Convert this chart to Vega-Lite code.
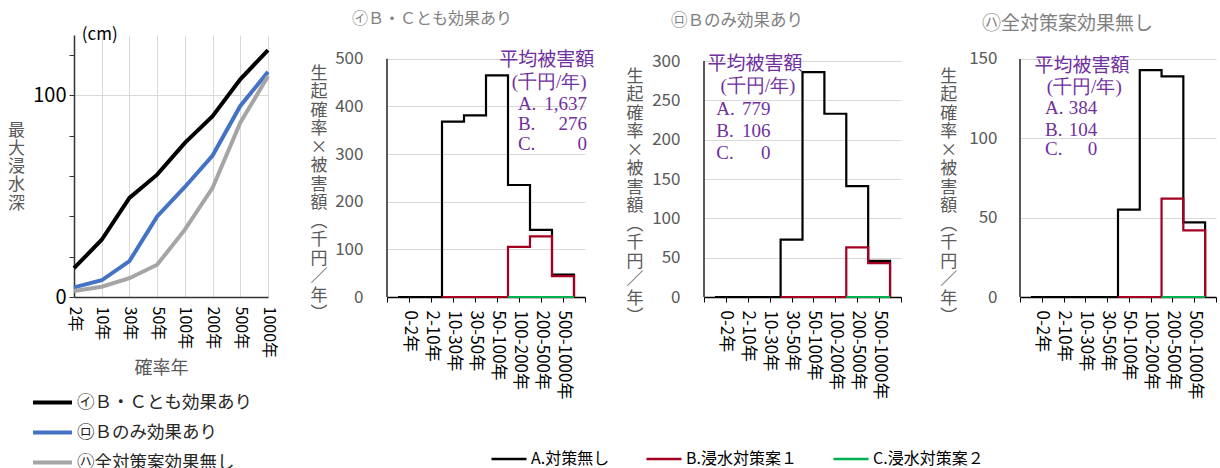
{
  "$schema": "https://vega.github.io/schema/vega-lite/v6.json",
  "background": "white",
  "padding": {"left": 7, "top": 10, "right": 0, "bottom": 0},
  "spacing": 119,
  "bounds": "flush",
  "resolve": {"scale": {"color": "independent", "x": "independent", "y": "independent"}, "legend": {"color": "independent"}},
  "config": {
    "font": "Noto Sans CJK JP",
    "view": {"stroke": null},
    "axis": {"titleFontWeight": "normal", "labelOverlap": false, "labelFlush": false},
    "title": {"fontWeight": "normal"}
  },
  "datasets": {
    "depth": [
      {"scen": "㋑Ｂ・Ｃとも効果あり", "period": "2年", "depth": 14.3},
      {"scen": "㋑Ｂ・Ｃとも効果あり", "period": "10年", "depth": 28.4},
      {"scen": "㋑Ｂ・Ｃとも効果あり", "period": "30年", "depth": 49.2},
      {"scen": "㋑Ｂ・Ｃとも効果あり", "period": "50年", "depth": 60.7},
      {"scen": "㋑Ｂ・Ｃとも効果あり", "period": "100年", "depth": 76.5},
      {"scen": "㋑Ｂ・Ｃとも効果あり", "period": "200年", "depth": 89.7},
      {"scen": "㋑Ｂ・Ｃとも効果あり", "period": "500年", "depth": 108},
      {"scen": "㋑Ｂ・Ｃとも効果あり", "period": "1000年", "depth": 122.5},
      {"scen": "㋺Ｂのみ効果あり", "period": "2年", "depth": 4.8},
      {"scen": "㋺Ｂのみ効果あり", "period": "10年", "depth": 8.3},
      {"scen": "㋺Ｂのみ効果あり", "period": "30年", "depth": 17.8},
      {"scen": "㋺Ｂのみ効果あり", "period": "50年", "depth": 40},
      {"scen": "㋺Ｂのみ効果あり", "period": "100年", "depth": 54.6},
      {"scen": "㋺Ｂのみ効果あり", "period": "200年", "depth": 70.2},
      {"scen": "㋺Ｂのみ効果あり", "period": "500年", "depth": 94.8},
      {"scen": "㋺Ｂのみ効果あり", "period": "1000年", "depth": 111.7},
      {"scen": "㋩全対策案効果無し", "period": "2年", "depth": 3},
      {"scen": "㋩全対策案効果無し", "period": "10年", "depth": 5.1},
      {"scen": "㋩全対策案効果無し", "period": "30年", "depth": 9.3},
      {"scen": "㋩全対策案効果無し", "period": "50年", "depth": 16},
      {"scen": "㋩全対策案効果無し", "period": "100年", "depth": 33.4},
      {"scen": "㋩全対策案効果無し", "period": "200年", "depth": 54.2},
      {"scen": "㋩全対策案効果無し", "period": "500年", "depth": 86.5},
      {"scen": "㋩全対策案効果無し", "period": "1000年", "depth": 109.5}
    ],
    "damage": [
      {"scen": "イ", "bin": "0-2年", "start": 0.5, "series": "A.対策無し", "value": 0},
      {"scen": "イ", "bin": "2-10年", "start": 1.5, "series": "A.対策無し", "value": 0},
      {"scen": "イ", "bin": "10-30年", "start": 2.5, "series": "A.対策無し", "value": 368},
      {"scen": "イ", "bin": "30-50年", "start": 3.5, "series": "A.対策無し", "value": 381},
      {"scen": "イ", "bin": "50-100年", "start": 4.5, "series": "A.対策無し", "value": 465},
      {"scen": "イ", "bin": "100-200年", "start": 5.5, "series": "A.対策無し", "value": 235},
      {"scen": "イ", "bin": "200-500年", "start": 6.5, "series": "A.対策無し", "value": 141},
      {"scen": "イ", "bin": "500-1000年", "start": 7.5, "series": "A.対策無し", "value": 47},
      {"scen": "イ", "bin": "end", "start": 8.5, "series": "A.対策無し", "value": 0},
      {"scen": "イ", "bin": "10-30年", "start": 2.5, "series": "B.浸水対策案１", "value": 0},
      {"scen": "イ", "bin": "30-50年", "start": 3.5, "series": "B.浸水対策案１", "value": 0},
      {"scen": "イ", "bin": "50-100年", "start": 4.5, "series": "B.浸水対策案１", "value": 0},
      {"scen": "イ", "bin": "100-200年", "start": 5.5, "series": "B.浸水対策案１", "value": 105},
      {"scen": "イ", "bin": "200-500年", "start": 6.5, "series": "B.浸水対策案１", "value": 127},
      {"scen": "イ", "bin": "500-1000年", "start": 7.5, "series": "B.浸水対策案１", "value": 44},
      {"scen": "イ", "bin": "end", "start": 8.5, "series": "B.浸水対策案１", "value": 0},
      {"scen": "イ", "bin": "100-200年", "start": 5.5, "series": "C.浸水対策案２", "value": 0},
      {"scen": "イ", "bin": "200-500年", "start": 6.5, "series": "C.浸水対策案２", "value": 0},
      {"scen": "イ", "bin": "500-1000年", "start": 7.5, "series": "C.浸水対策案２", "value": 0},
      {"scen": "イ", "bin": "end", "start": 8.5, "series": "C.浸水対策案２", "value": 0},
      {"scen": "ロ", "bin": "0-2年", "start": 0.5, "series": "A.対策無し", "value": 0},
      {"scen": "ロ", "bin": "2-10年", "start": 1.5, "series": "A.対策無し", "value": 0},
      {"scen": "ロ", "bin": "10-30年", "start": 2.5, "series": "A.対策無し", "value": 0},
      {"scen": "ロ", "bin": "30-50年", "start": 3.5, "series": "A.対策無し", "value": 73},
      {"scen": "ロ", "bin": "50-100年", "start": 4.5, "series": "A.対策無し", "value": 286},
      {"scen": "ロ", "bin": "100-200年", "start": 5.5, "series": "A.対策無し", "value": 233},
      {"scen": "ロ", "bin": "200-500年", "start": 6.5, "series": "A.対策無し", "value": 141},
      {"scen": "ロ", "bin": "500-1000年", "start": 7.5, "series": "A.対策無し", "value": 46},
      {"scen": "ロ", "bin": "end", "start": 8.5, "series": "A.対策無し", "value": 0},
      {"scen": "ロ", "bin": "30-50年", "start": 3.5, "series": "B.浸水対策案１", "value": 0},
      {"scen": "ロ", "bin": "50-100年", "start": 4.5, "series": "B.浸水対策案１", "value": 0},
      {"scen": "ロ", "bin": "100-200年", "start": 5.5, "series": "B.浸水対策案１", "value": 0},
      {"scen": "ロ", "bin": "200-500年", "start": 6.5, "series": "B.浸水対策案１", "value": 63},
      {"scen": "ロ", "bin": "500-1000年", "start": 7.5, "series": "B.浸水対策案１", "value": 43},
      {"scen": "ロ", "bin": "end", "start": 8.5, "series": "B.浸水対策案１", "value": 0},
      {"scen": "ロ", "bin": "200-500年", "start": 6.5, "series": "C.浸水対策案２", "value": 0},
      {"scen": "ロ", "bin": "500-1000年", "start": 7.5, "series": "C.浸水対策案２", "value": 0},
      {"scen": "ロ", "bin": "end", "start": 8.5, "series": "C.浸水対策案２", "value": 0},
      {"scen": "ハ", "bin": "0-2年", "start": 0.5, "series": "A.対策無し", "value": 0},
      {"scen": "ハ", "bin": "2-10年", "start": 1.5, "series": "A.対策無し", "value": 0},
      {"scen": "ハ", "bin": "10-30年", "start": 2.5, "series": "A.対策無し", "value": 0},
      {"scen": "ハ", "bin": "30-50年", "start": 3.5, "series": "A.対策無し", "value": 0},
      {"scen": "ハ", "bin": "50-100年", "start": 4.5, "series": "A.対策無し", "value": 55},
      {"scen": "ハ", "bin": "100-200年", "start": 5.5, "series": "A.対策無し", "value": 143},
      {"scen": "ハ", "bin": "200-500年", "start": 6.5, "series": "A.対策無し", "value": 139},
      {"scen": "ハ", "bin": "500-1000年", "start": 7.5, "series": "A.対策無し", "value": 47},
      {"scen": "ハ", "bin": "end", "start": 8.5, "series": "A.対策無し", "value": 0},
      {"scen": "ハ", "bin": "50-100年", "start": 4.5, "series": "B.浸水対策案１", "value": 0},
      {"scen": "ハ", "bin": "100-200年", "start": 5.5, "series": "B.浸水対策案１", "value": 0},
      {"scen": "ハ", "bin": "200-500年", "start": 6.5, "series": "B.浸水対策案１", "value": 62},
      {"scen": "ハ", "bin": "500-1000年", "start": 7.5, "series": "B.浸水対策案１", "value": 42},
      {"scen": "ハ", "bin": "end", "start": 8.5, "series": "B.浸水対策案１", "value": 0},
      {"scen": "ハ", "bin": "200-500年", "start": 6.5, "series": "C.浸水対策案２", "value": 0},
      {"scen": "ハ", "bin": "500-1000年", "start": 7.5, "series": "C.浸水対策案２", "value": 0},
      {"scen": "ハ", "bin": "end", "start": 8.5, "series": "C.浸水対策案２", "value": 0}
    ],
    "avg": [
      {"scen": "イ", "item": "A.", "avg": 1637},
      {"scen": "イ", "item": "B.", "avg": 276},
      {"scen": "イ", "item": "C.", "avg": 0},
      {"scen": "ロ", "item": "A.", "avg": 779},
      {"scen": "ロ", "item": "B.", "avg": 106},
      {"scen": "ロ", "item": "C.", "avg": 0},
      {"scen": "ハ", "item": "A.", "avg": 384},
      {"scen": "ハ", "item": "B.", "avg": 104},
      {"scen": "ハ", "item": "C.", "avg": 0}
    ]
  },
  "hconcat": [
    {
      "width": 194,
      "height": 262,
      "layer": [
        {
          "data": {"name": "depth"},
          "mark": {"type": "line", "strokeWidth": 4},
          "encoding": {
            "x": {
              "field": "period", "type": "ordinal",
              "scale": {"type": "point", "padding": 0, "domain": ["2年", "10年", "30年", "50年", "100年", "200年", "500年", "1000年"]},
              "axis": {
                "title": "確率年", "titleFontSize": 18, "titleColor": "#595959", "titleX": 87, "titleY": 71, "titleAlign": "center", "titleBaseline": "middle",
                "labelAngle": 90, "labelFontSize": 16, "labelColor": "#000000", "labelPadding": 9,
                "ticks": false, "domainColor": "#333333", "domainWidth": 1.5,
                "grid": true, "gridColor": "#d9d9d9", "gridWidth": 1
              }
            },
            "y": {
              "field": "depth", "type": "quantitative",
              "scale": {"domain": [0, 130], "nice": false},
              "axis": {
                "values": [0, 10, 20, 30, 40, 50, 60, 70, 80, 90, 100, 110, 120, 130],
                "labelExpr": "datum.value % 50 == 0 ? datum.label : ''",
                "labelOverlap": false, "labelFontSize": 20, "labelColor": "#000000", "labelPadding": 3,
                "tickSize": 5, "tickColor": "#333333", "tickWidth": 1,
                "domainColor": "#333333", "domainWidth": 1.5,
                "grid": true, "gridColor": "#d9d9d9",
                "gridOpacity": {"condition": {"test": "datum.value % 50 == 0", "value": 1}, "value": 0},
                "title": ["最", "大", "浸", "水", "深"], "titleAngle": 0, "titleX": -58, "titleY": 87,
                "titleAlign": "center", "titleBaseline": "top", "titleLineHeight": 18.3, "titleFontSize": 17, "titleColor": "#595959"
              }
            },
            "color": {
              "field": "scen", "type": "nominal",
              "scale": {"domain": ["㋑Ｂ・Ｃとも効果あり", "㋺Ｂのみ効果あり", "㋩全対策案効果無し"], "range": ["#000000", "#4472C4", "#A5A5A5"]},
              "legend": {
                "orient": "none", "legendX": -43, "legendY": 346, "direction": "vertical", "title": null,
                "symbolType": "stroke", "symbolSize": 1521, "symbolStrokeWidth": 4,
                "labelFontSize": 17.5, "labelColor": "#262626", "labelOffset": 3, "rowPadding": 0, "labelLimit": 400
              }
            }
          }
        },
        {
          "data": {"name": "depth"},
          "transform": [{"filter": "datum.period == '2年' && datum.depth > 14"}],
          "mark": {"type": "text", "align": "center", "baseline": "middle", "fontSize": 17, "dx": -2},
          "encoding": {"x": {"datum": "10年"}, "y": {"datum": 130}, "text": {"value": "(cm)"}, "color": {"value": "#000000"}}
        }
      ]
    },
    {
      "width": 198,
      "height": 262,
      "title": {"text": "㋑Ｂ・Ｃとも効果あり", "anchor": "start", "frame": "group", "dx": -35, "offset": 0.3, "baseline": "middle", "fontSize": 16, "color": "#808080"},
      "resolve": {"scale": {"x": "independent", "y": "independent"}, "axis": {"x": "independent", "y": "independent"}},
      "layer": [
        {
          "data": {"name": "damage"},
          "transform": [{"filter": "datum.scen == 'イ'"}],
          "mark": {"type": "line", "interpolate": "step-after", "strokeWidth": 2.2},
          "encoding": {
            "x": {
              "field": "start", "type": "quantitative",
              "scale": {"domain": [0, 9], "nice": false, "zero": false},
              "axis": {
                "values": [0, 1, 2, 3, 4, 5, 6, 7, 8, 9],
                "labelExpr": "['','0-2年','2-10年','10-30年','30-50年','50-100年','100-200年','200-500年','500-1000年',''][datum.value]",
                "labelAngle": 90, "labelFontSize": 17, "labelColor": "#000000", "labelPadding": 8, "labelFlush": false, "labelOverlap": false,
                "tickSize": 5, "tickColor": "#000000", "tickWidth": 1, "domainColor": "#000000", "domainWidth": 1.5,
                "grid": false, "title": null
              }
            },
            "y": {
              "field": "value", "type": "quantitative",
              "scale": {"domain": [0, 549.7], "nice": false},
              "axis": {
                "values": [0, 100, 200, 300, 400, 500],
                "domain": false, "ticks": false, "grid": true, "gridColor": "#d9d9d9",
                "labelFontSize": 17, "labelColor": "#595959", "labelPadding": 24,
                "title": ["生", "起", "確", "率", "×", "被", "害", "額", "︵", "千", "円", "／", "年", "︶"],
                "titleAngle": 0, "titleX": -68.4, "titleY": 30, "titleAlign": "center", "titleBaseline": "top",
                "titleLineHeight": 18.5, "titleFontSize": 17, "titleColor": "#595959"
              }
            },
            "color": {
              "field": "series", "type": "nominal",
              "scale": {"domain": ["A.対策無し", "B.浸水対策案１", "C.浸水対策案２"], "range": ["#000000", "#A50021", "#00B050"]},
              "legend": {
                "orient": "none", "legendX": 103, "legendY": 405, "direction": "horizontal", "columns": 3, "title": null,
                "symbolType": "stroke", "symbolSize": 1225, "symbolStrokeWidth": 2.5,
                "labelFontSize": 16, "labelColor": "#000000", "labelOffset": 3, "columnPadding": 31, "labelLimit": 300
              }
            }
          }
        },
        {
          "data": {"name": "avg"},
          "transform": [{"filter": "datum.scen == 'イ'"}],
          "layer": [
            {
              "transform": [{"filter": "datum.item == 'A.'"}],
              "mark": {"type": "rule", "strokeWidth": 1.5, "color": "#222222"},
              "encoding": {
                "x": {"datum": 0, "type": "quantitative", "scale": {"domain": [0, 9], "nice": false, "zero": false}, "axis": null},
                "y": {"datum": 0, "type": "quantitative", "scale": {"domain": [0, 549.7], "nice": false}, "axis": null},
                "y2": {"datum": 500}
              }
            },
            {
              "transform": [{"filter": "datum.item == 'A.'"}],
              "mark": {"type": "text", "align": "center", "baseline": "middle", "fontSize": 19, "color": "#7030A0"},
              "encoding": {
                "x": {"datum": 7.26, "type": "quantitative", "scale": {"domain": [0, 9], "nice": false, "zero": false}, "axis": null},
                "y": {"datum": 496.5, "type": "quantitative", "scale": {"domain": [0, 549.7], "nice": false}, "axis": null},
                "text": {"value": "平均被害額"}
              }
            },
            {
              "transform": [{"filter": "datum.item == 'A.'"}],
              "mark": {"type": "text", "align": "center", "baseline": "middle", "fontSize": 19, "font": "Liberation Serif", "color": "#7030A0"},
              "encoding": {
                "x": {"datum": 7.37, "type": "quantitative", "scale": {"domain": [0, 9], "nice": false, "zero": false}, "axis": null},
                "y": {"datum": 451, "type": "quantitative", "scale": {"domain": [0, 549.7], "nice": false}, "axis": null},
                "text": {"value": "(千円/年)"}
              }
            },
            {
              "transform": [{"filter": "datum.item == 'A.'"}],
              "mark": {"type": "text", "align": "left", "baseline": "middle", "fontSize": 19, "font": "Liberation Serif", "color": "#7030A0"},
              "encoding": {
                "x": {"datum": 5.95, "type": "quantitative", "scale": {"domain": [0, 9], "nice": false, "zero": false}, "axis": null},
                "y": {"datum": 405.7, "type": "quantitative", "scale": {"domain": [0, 549.7], "nice": false}, "axis": null},
                "text": {"field": "item", "type": "nominal"}
              }
            },
            {
              "transform": [{"filter": "datum.item == 'B.'"}],
              "mark": {"type": "text", "align": "left", "baseline": "middle", "fontSize": 19, "font": "Liberation Serif", "color": "#7030A0"},
              "encoding": {
                "x": {"datum": 5.95, "type": "quantitative", "scale": {"domain": [0, 9], "nice": false, "zero": false}, "axis": null},
                "y": {"datum": 362.3, "type": "quantitative", "scale": {"domain": [0, 549.7], "nice": false}, "axis": null},
                "text": {"field": "item", "type": "nominal"}
              }
            },
            {
              "transform": [{"filter": "datum.item == 'C.'"}],
              "mark": {"type": "text", "align": "left", "baseline": "middle", "fontSize": 19, "font": "Liberation Serif", "color": "#7030A0"},
              "encoding": {
                "x": {"datum": 5.95, "type": "quantitative", "scale": {"domain": [0, 9], "nice": false, "zero": false}, "axis": null},
                "y": {"datum": 320.3, "type": "quantitative", "scale": {"domain": [0, 549.7], "nice": false}, "axis": null},
                "text": {"field": "item", "type": "nominal"}
              }
            },
            {
              "transform": [{"filter": "datum.item == 'A.'"}],
              "mark": {"type": "text", "align": "right", "baseline": "middle", "fontSize": 19, "font": "Liberation Serif", "color": "#7030A0"},
              "encoding": {
                "x": {"datum": 9.09, "type": "quantitative", "scale": {"domain": [0, 9], "nice": false, "zero": false}, "axis": null},
                "y": {"datum": 405.7, "type": "quantitative", "scale": {"domain": [0, 549.7], "nice": false}, "axis": null},
                "text": {"field": "avg", "type": "quantitative", "format": ","}
              }
            },
            {
              "transform": [{"filter": "datum.item == 'B.'"}],
              "mark": {"type": "text", "align": "right", "baseline": "middle", "fontSize": 19, "font": "Liberation Serif", "color": "#7030A0"},
              "encoding": {
                "x": {"datum": 9.09, "type": "quantitative", "scale": {"domain": [0, 9], "nice": false, "zero": false}, "axis": null},
                "y": {"datum": 362.3, "type": "quantitative", "scale": {"domain": [0, 549.7], "nice": false}, "axis": null},
                "text": {"field": "avg", "type": "quantitative", "format": ","}
              }
            },
            {
              "transform": [{"filter": "datum.item == 'C.'"}],
              "mark": {"type": "text", "align": "right", "baseline": "middle", "fontSize": 19, "font": "Liberation Serif", "color": "#7030A0"},
              "encoding": {
                "x": {"datum": 9.09, "type": "quantitative", "scale": {"domain": [0, 9], "nice": false, "zero": false}, "axis": null},
                "y": {"datum": 320.3, "type": "quantitative", "scale": {"domain": [0, 549.7], "nice": false}, "axis": null},
                "text": {"field": "avg", "type": "quantitative", "format": ","}
              }
            }
          ]
        }
      ]
    },
    {
      "width": 197,
      "height": 262,
      "title": {"text": "㋺Ｂのみ効果あり", "anchor": "start", "frame": "group", "dx": -33, "offset": -2.3, "baseline": "middle", "fontSize": 16.5, "color": "#808080"},
      "resolve": {"scale": {"x": "independent", "y": "independent"}, "axis": {"x": "independent", "y": "independent"}},
      "layer": [
        {
          "data": {"name": "damage"},
          "transform": [{"filter": "datum.scen == 'ロ'"}],
          "mark": {"type": "line", "interpolate": "step-after", "strokeWidth": 2.2},
          "encoding": {
            "x": {
              "field": "start", "type": "quantitative",
              "scale": {"domain": [0, 9], "nice": false, "zero": false},
              "axis": {
                "values": [0, 1, 2, 3, 4, 5, 6, 7, 8, 9],
                "labelExpr": "['','0-2年','2-10年','10-30年','30-50年','50-100年','100-200年','200-500年','500-1000年',''][datum.value]",
                "labelAngle": 90, "labelFontSize": 17, "labelColor": "#000000", "labelPadding": 8, "labelFlush": false, "labelOverlap": false,
                "tickSize": 5, "tickColor": "#000000", "tickWidth": 1, "domainColor": "#000000", "domainWidth": 1.5,
                "grid": false, "title": null
              }
            },
            "y": {
              "field": "value", "type": "quantitative",
              "scale": {"domain": [0, 333.1], "nice": false},
              "axis": {
                "values": [0, 50, 100, 150, 200, 250, 300],
                "domain": false, "ticks": false, "grid": true, "gridColor": "#d9d9d9",
                "labelFontSize": 17, "labelColor": "#595959", "labelPadding": 24,
                "title": ["生", "起", "確", "率", "×", "被", "害", "額", "︵", "千", "円", "／", "年", "︶"],
                "titleAngle": 0, "titleX": -69.4, "titleY": 33, "titleAlign": "center", "titleBaseline": "top",
                "titleLineHeight": 18.5, "titleFontSize": 17, "titleColor": "#595959"
              }
            },
            "color": {
              "field": "series", "type": "nominal",
              "scale": {"domain": ["A.対策無し", "B.浸水対策案１", "C.浸水対策案２"], "range": ["#000000", "#A50021", "#00B050"]},
              "legend": null
            }
          }
        },
        {
          "data": {"name": "avg"},
          "transform": [{"filter": "datum.scen == 'ロ'"}],
          "layer": [
            {
              "transform": [{"filter": "datum.item == 'A.'"}],
              "mark": {"type": "rule", "strokeWidth": 1.5, "color": "#222222"},
              "encoding": {
                "x": {"datum": 0, "type": "quantitative", "scale": {"domain": [0, 9], "nice": false, "zero": false}, "axis": null},
                "y": {"datum": 0, "type": "quantitative", "scale": {"domain": [0, 333.1], "nice": false}, "axis": null},
                "y2": {"datum": 300}
              }
            },
            {
              "transform": [{"filter": "datum.item == 'A.'"}],
              "mark": {"type": "text", "align": "center", "baseline": "middle", "fontSize": 19, "color": "#7030A0"},
              "encoding": {
                "x": {"datum": 2.33, "type": "quantitative", "scale": {"domain": [0, 9], "nice": false, "zero": false}, "axis": null},
                "y": {"datum": 295.8, "type": "quantitative", "scale": {"domain": [0, 333.1], "nice": false}, "axis": null},
                "text": {"value": "平均被害額"}
              }
            },
            {
              "transform": [{"filter": "datum.item == 'A.'"}],
              "mark": {"type": "text", "align": "center", "baseline": "middle", "fontSize": 19, "font": "Liberation Serif", "color": "#7030A0"},
              "encoding": {
                "x": {"datum": 2.46, "type": "quantitative", "scale": {"domain": [0, 9], "nice": false, "zero": false}, "axis": null},
                "y": {"datum": 268.2, "type": "quantitative", "scale": {"domain": [0, 333.1], "nice": false}, "axis": null},
                "text": {"value": "(千円/年)"}
              }
            },
            {
              "transform": [{"filter": "datum.item == 'A.'"}],
              "mark": {"type": "text", "align": "left", "baseline": "middle", "fontSize": 19, "font": "Liberation Serif", "color": "#7030A0"},
              "encoding": {
                "x": {"datum": 0.56, "type": "quantitative", "scale": {"domain": [0, 9], "nice": false, "zero": false}, "axis": null},
                "y": {"datum": 238.6, "type": "quantitative", "scale": {"domain": [0, 333.1], "nice": false}, "axis": null},
                "text": {"field": "item", "type": "nominal"}
              }
            },
            {
              "transform": [{"filter": "datum.item == 'B.'"}],
              "mark": {"type": "text", "align": "left", "baseline": "middle", "fontSize": 19, "font": "Liberation Serif", "color": "#7030A0"},
              "encoding": {
                "x": {"datum": 0.56, "type": "quantitative", "scale": {"domain": [0, 9], "nice": false, "zero": false}, "axis": null},
                "y": {"datum": 211, "type": "quantitative", "scale": {"domain": [0, 333.1], "nice": false}, "axis": null},
                "text": {"field": "item", "type": "nominal"}
              }
            },
            {
              "transform": [{"filter": "datum.item == 'C.'"}],
              "mark": {"type": "text", "align": "left", "baseline": "middle", "fontSize": 19, "font": "Liberation Serif", "color": "#7030A0"},
              "encoding": {
                "x": {"datum": 0.56, "type": "quantitative", "scale": {"domain": [0, 9], "nice": false, "zero": false}, "axis": null},
                "y": {"datum": 183.4, "type": "quantitative", "scale": {"domain": [0, 333.1], "nice": false}, "axis": null},
                "text": {"field": "item", "type": "nominal"}
              }
            },
            {
              "transform": [{"filter": "datum.item == 'A.'"}],
              "mark": {"type": "text", "align": "right", "baseline": "middle", "fontSize": 19, "font": "Liberation Serif", "color": "#7030A0"},
              "encoding": {
                "x": {"datum": 3.04, "type": "quantitative", "scale": {"domain": [0, 9], "nice": false, "zero": false}, "axis": null},
                "y": {"datum": 238.6, "type": "quantitative", "scale": {"domain": [0, 333.1], "nice": false}, "axis": null},
                "text": {"field": "avg", "type": "quantitative", "format": ","}
              }
            },
            {
              "transform": [{"filter": "datum.item == 'B.'"}],
              "mark": {"type": "text", "align": "right", "baseline": "middle", "fontSize": 19, "font": "Liberation Serif", "color": "#7030A0"},
              "encoding": {
                "x": {"datum": 3.04, "type": "quantitative", "scale": {"domain": [0, 9], "nice": false, "zero": false}, "axis": null},
                "y": {"datum": 211, "type": "quantitative", "scale": {"domain": [0, 333.1], "nice": false}, "axis": null},
                "text": {"field": "avg", "type": "quantitative", "format": ","}
              }
            },
            {
              "transform": [{"filter": "datum.item == 'C.'"}],
              "mark": {"type": "text", "align": "right", "baseline": "middle", "fontSize": 19, "font": "Liberation Serif", "color": "#7030A0"},
              "encoding": {
                "x": {"datum": 3.04, "type": "quantitative", "scale": {"domain": [0, 9], "nice": false, "zero": false}, "axis": null},
                "y": {"datum": 183.4, "type": "quantitative", "scale": {"domain": [0, 333.1], "nice": false}, "axis": null},
                "text": {"field": "avg", "type": "quantitative", "format": ","}
              }
            }
          ]
        }
      ]
    },
    {
      "width": 196,
      "height": 262,
      "title": {"text": "㋩全対策案効果無し", "anchor": "start", "frame": "group", "dx": -38, "offset": -8.1, "baseline": "middle", "fontSize": 19, "color": "#808080"},
      "resolve": {"scale": {"x": "independent", "y": "independent"}, "axis": {"x": "independent", "y": "independent"}},
      "layer": [
        {
          "data": {"name": "damage"},
          "transform": [{"filter": "datum.scen == 'ハ'"}],
          "mark": {"type": "line", "interpolate": "step-after", "strokeWidth": 2.2},
          "encoding": {
            "x": {
              "field": "start", "type": "quantitative",
              "scale": {"domain": [0, 9], "nice": false, "zero": false},
              "axis": {
                "values": [0, 1, 2, 3, 4, 5, 6, 7, 8, 9],
                "labelExpr": "['','0-2年','2-10年','10-30年','30-50年','50-100年','100-200年','200-500年','500-1000年',''][datum.value]",
                "labelAngle": 90, "labelFontSize": 17, "labelColor": "#000000", "labelPadding": 8, "labelFlush": false, "labelOverlap": false,
                "tickSize": 5, "tickColor": "#000000", "tickWidth": 1, "domainColor": "#000000", "domainWidth": 1.5,
                "grid": false, "title": null
              }
            },
            "y": {
              "field": "value", "type": "quantitative",
              "scale": {"domain": [0, 165.1], "nice": false},
              "axis": {
                "values": [0, 50, 100, 150],
                "domain": false, "ticks": false, "grid": true, "gridColor": "#d9d9d9",
                "labelFontSize": 17, "labelColor": "#595959", "labelPadding": 23,
                "title": ["生", "起", "確", "率", "×", "被", "害", "額", "︵", "千", "円", "／", "年", "︶"],
                "titleAngle": 0, "titleX": -71.7, "titleY": 33, "titleAlign": "center", "titleBaseline": "top",
                "titleLineHeight": 18.5, "titleFontSize": 17, "titleColor": "#595959"
              }
            },
            "color": {
              "field": "series", "type": "nominal",
              "scale": {"domain": ["A.対策無し", "B.浸水対策案１", "C.浸水対策案２"], "range": ["#000000", "#A50021", "#00B050"]},
              "legend": null
            }
          }
        },
        {
          "data": {"name": "avg"},
          "transform": [{"filter": "datum.scen == 'ハ'"}],
          "layer": [
            {
              "transform": [{"filter": "datum.item == 'A.'"}],
              "mark": {"type": "rule", "strokeWidth": 1.5, "color": "#222222"},
              "encoding": {
                "x": {"datum": 0, "type": "quantitative", "scale": {"domain": [0, 9], "nice": false, "zero": false}, "axis": null},
                "y": {"datum": 0, "type": "quantitative", "scale": {"domain": [0, 165.1], "nice": false}, "axis": null},
                "y2": {"datum": 150}
              }
            },
            {
              "transform": [{"filter": "datum.item == 'A.'"}],
              "mark": {"type": "text", "align": "center", "baseline": "middle", "fontSize": 19, "color": "#7030A0"},
              "encoding": {
                "x": {"datum": 2.85, "type": "quantitative", "scale": {"domain": [0, 9], "nice": false, "zero": false}, "axis": null},
                "y": {"datum": 145.3, "type": "quantitative", "scale": {"domain": [0, 165.1], "nice": false}, "axis": null},
                "text": {"value": "平均被害額"}
              }
            },
            {
              "transform": [{"filter": "datum.item == 'A.'"}],
              "mark": {"type": "text", "align": "center", "baseline": "middle", "fontSize": 19, "font": "Liberation Serif", "color": "#7030A0"},
              "encoding": {
                "x": {"datum": 2.95, "type": "quantitative", "scale": {"domain": [0, 9], "nice": false, "zero": false}, "axis": null},
                "y": {"datum": 132.4, "type": "quantitative", "scale": {"domain": [0, 165.1], "nice": false}, "axis": null},
                "text": {"value": "(千円/年)"}
              }
            },
            {
              "transform": [{"filter": "datum.item == 'A.'"}],
              "mark": {"type": "text", "align": "left", "baseline": "middle", "fontSize": 19, "font": "Liberation Serif", "color": "#7030A0"},
              "encoding": {
                "x": {"datum": 1.15, "type": "quantitative", "scale": {"domain": [0, 9], "nice": false, "zero": false}, "axis": null},
                "y": {"datum": 119.1, "type": "quantitative", "scale": {"domain": [0, 165.1], "nice": false}, "axis": null},
                "text": {"field": "item", "type": "nominal"}
              }
            },
            {
              "transform": [{"filter": "datum.item == 'B.'"}],
              "mark": {"type": "text", "align": "left", "baseline": "middle", "fontSize": 19, "font": "Liberation Serif", "color": "#7030A0"},
              "encoding": {
                "x": {"datum": 1.15, "type": "quantitative", "scale": {"domain": [0, 9], "nice": false, "zero": false}, "axis": null},
                "y": {"datum": 105.4, "type": "quantitative", "scale": {"domain": [0, 165.1], "nice": false}, "axis": null},
                "text": {"field": "item", "type": "nominal"}
              }
            },
            {
              "transform": [{"filter": "datum.item == 'C.'"}],
              "mark": {"type": "text", "align": "left", "baseline": "middle", "fontSize": 19, "font": "Liberation Serif", "color": "#7030A0"},
              "encoding": {
                "x": {"datum": 1.15, "type": "quantitative", "scale": {"domain": [0, 9], "nice": false, "zero": false}, "axis": null},
                "y": {"datum": 93.3, "type": "quantitative", "scale": {"domain": [0, 165.1], "nice": false}, "axis": null},
                "text": {"field": "item", "type": "nominal"}
              }
            },
            {
              "transform": [{"filter": "datum.item == 'A.'"}],
              "mark": {"type": "text", "align": "right", "baseline": "middle", "fontSize": 19, "font": "Liberation Serif", "color": "#7030A0"},
              "encoding": {
                "x": {"datum": 3.55, "type": "quantitative", "scale": {"domain": [0, 9], "nice": false, "zero": false}, "axis": null},
                "y": {"datum": 119.1, "type": "quantitative", "scale": {"domain": [0, 165.1], "nice": false}, "axis": null},
                "text": {"field": "avg", "type": "quantitative", "format": ","}
              }
            },
            {
              "transform": [{"filter": "datum.item == 'B.'"}],
              "mark": {"type": "text", "align": "right", "baseline": "middle", "fontSize": 19, "font": "Liberation Serif", "color": "#7030A0"},
              "encoding": {
                "x": {"datum": 3.55, "type": "quantitative", "scale": {"domain": [0, 9], "nice": false, "zero": false}, "axis": null},
                "y": {"datum": 105.4, "type": "quantitative", "scale": {"domain": [0, 165.1], "nice": false}, "axis": null},
                "text": {"field": "avg", "type": "quantitative", "format": ","}
              }
            },
            {
              "transform": [{"filter": "datum.item == 'C.'"}],
              "mark": {"type": "text", "align": "right", "baseline": "middle", "fontSize": 19, "font": "Liberation Serif", "color": "#7030A0"},
              "encoding": {
                "x": {"datum": 3.55, "type": "quantitative", "scale": {"domain": [0, 9], "nice": false, "zero": false}, "axis": null},
                "y": {"datum": 93.3, "type": "quantitative", "scale": {"domain": [0, 165.1], "nice": false}, "axis": null},
                "text": {"field": "avg", "type": "quantitative", "format": ","}
              }
            }
          ]
        }
      ]
    }
  ]
}
